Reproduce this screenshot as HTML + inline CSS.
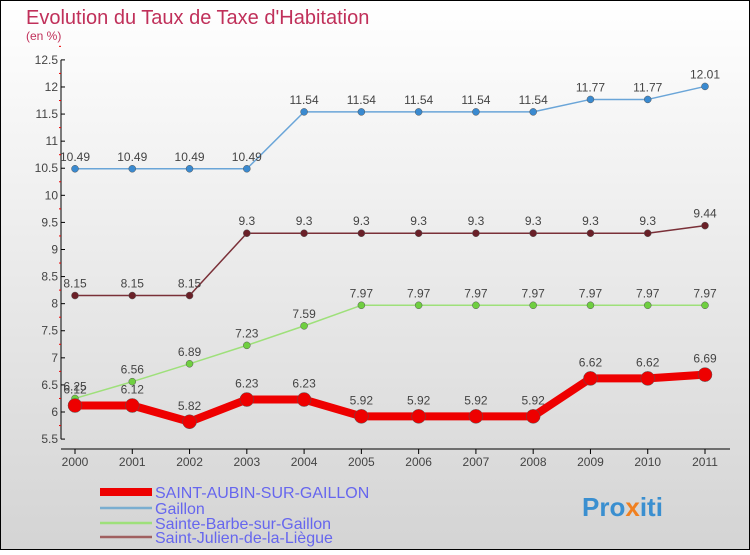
<!DOCTYPE html>
<html><head><meta charset="utf-8"><style>
body{margin:0}
#c{width:750px;height:550px;position:relative;font-family:"Liberation Sans",sans-serif}
</style></head><body>
<div id="c">
<svg id="s" width="750" height="550" xmlns="http://www.w3.org/2000/svg">
<defs><linearGradient id="bg" x1="0" y1="0" x2="0" y2="1"><stop offset="0" stop-color="#ffffff"/><stop offset="1" stop-color="#d4d4d4"/></linearGradient></defs>
<rect x="0.5" y="0.5" width="749" height="549" fill="url(#bg)" stroke="#000"/>
<text x="26" y="24" font-size="20" fill="#c0305a">Evolution du Taux de Taxe d'Habitation</text>
<text x="26" y="40" font-size="12" fill="#c0305a">(en %)</text>
<g id="axes"></g><g id="series"></g><g id="legend"></g>
<text x="582" y="516" font-size="26" font-weight="bold" fill="#3a8fd0">Pro<tspan fill="#f08020">x</tspan>iti</text>
</svg></div>
<script>
const years=[2000,2001,2002,2003,2004,2005,2006,2007,2008,2009,2010,2011];
const yTicks=[5.5,6,6.5,7,7.5,8,8.5,9,9.5,10,10.5,11,11.5,12,12.5];
const seriesNames=["SAINT-AUBIN-SUR-GAILLON","Gaillon","Sainte-Barbe-sur-Gaillon","Saint-Julien-de-la-Liègue"];
const saintAubin=[6.12,6.12,5.82,6.23,6.23,5.92,5.92,5.92,5.92,6.62,6.62,6.69];
const gaillon=[10.49,10.49,10.49,10.49,11.54,11.54,11.54,11.54,11.54,11.77,11.77,12.01];
const sainteBarbe=[6.25,6.56,6.89,7.23,7.59,7.97,7.97,7.97,7.97,7.97,7.97,7.97];
const saintJulien=[8.15,8.15,8.15,9.3,9.3,9.3,9.3,9.3,9.3,9.3,9.3,9.44];
const NS="http://www.w3.org/2000/svg";
function X(i){return 75+i*(705-75)/(years.length-1);}
function Y(v){return 412-(v-6)*54.17;}
function mk(t,a,p){const e=document.createElementNS(NS,t);for(const k in a)e.setAttribute(k,a[k]);p.appendChild(e);return e;}
const ax=document.getElementById('axes');
let e=mk('line',{x1:61,y1:Y(12.5),x2:61,y2:Y(5.5),stroke:'#000'},ax);


e=mk('line',{x1:61,y1:449,x2:730,y2:449,stroke:'#000'},ax);


yTicks.forEach(v=>{
 mk('line',{x1:61,y1:Y(v),x2:65,y2:Y(v),stroke:'#000'},ax);
 mk('line',{x1:59,y1:Y(v+0.25),x2:61,y2:Y(v+0.25),stroke:'#e00'},ax);
 const t=mk('text',{x:58,y:Y(v)+4,'font-size':12,'text-anchor':'end',fill:'#444'},ax);t.textContent=v;
 
 
});
years.forEach((y,i)=>{
 mk('line',{x1:X(i),y1:449,x2:X(i),y2:454,stroke:'#000'},ax);
 const t=mk('text',{x:X(i),y:466,'font-size':12,'text-anchor':'middle',fill:'#444'},ax);t.textContent=y;
 
 
});
const sg=document.getElementById('series');
function draw(data,color,mcol,w,r,name,lblOff){
 const g=mk('g',{},sg);
 
 
 mk('polyline',{points:data.map((v,i)=>X(i)+','+Y(v)).join(' '),fill:'none',stroke:color,'stroke-width':w,'stroke-linejoin':'round'},g);
 data.forEach((v,i)=>{
  const c=mk('circle',{cx:X(i),cy:Y(v),r:r,fill:mcol,stroke:'#555','stroke-width':0.5},g);
  
  
  const t=mk('text',{x:X(i),y:Y(v)-lblOff,'font-size':12,'text-anchor':'middle',fill:'#444'},g);t.textContent=v;
 });
}
draw(gaillon,'#6aa5d8','#3a8ad0',1.5,3.5,'series-gaillon',8);
draw(saintJulien,'#7a3038','#6a2028',1.5,3.5,'series-saint-julien',8);
draw(sainteBarbe,'#9ee07a','#6fcf40',1.5,3.5,'series-sainte-barbe',8);
draw(saintAubin,'#ee0000','#ee0000',8,7,'series-saint-aubin',12);
const lg=document.getElementById('legend');
const lc=['#ee0000','#7aaed0','#9ee07a','#a06060'],lw=[8,2.5,2.5,2.5],ly=[492,508,523,537];
seriesNames.forEach((n,i)=>{
 const g=mk('g',{},lg);
 
 
 mk('line',{x1:100,y1:ly[i],x2:152,y2:ly[i],stroke:lc[i],'stroke-width':lw[i]},g);
 const t=mk('text',{x:155,y:ly[i]+6,'font-size':16,fill:'#6666ee'},g);t.textContent=n;
});
</script>
</body></html>
